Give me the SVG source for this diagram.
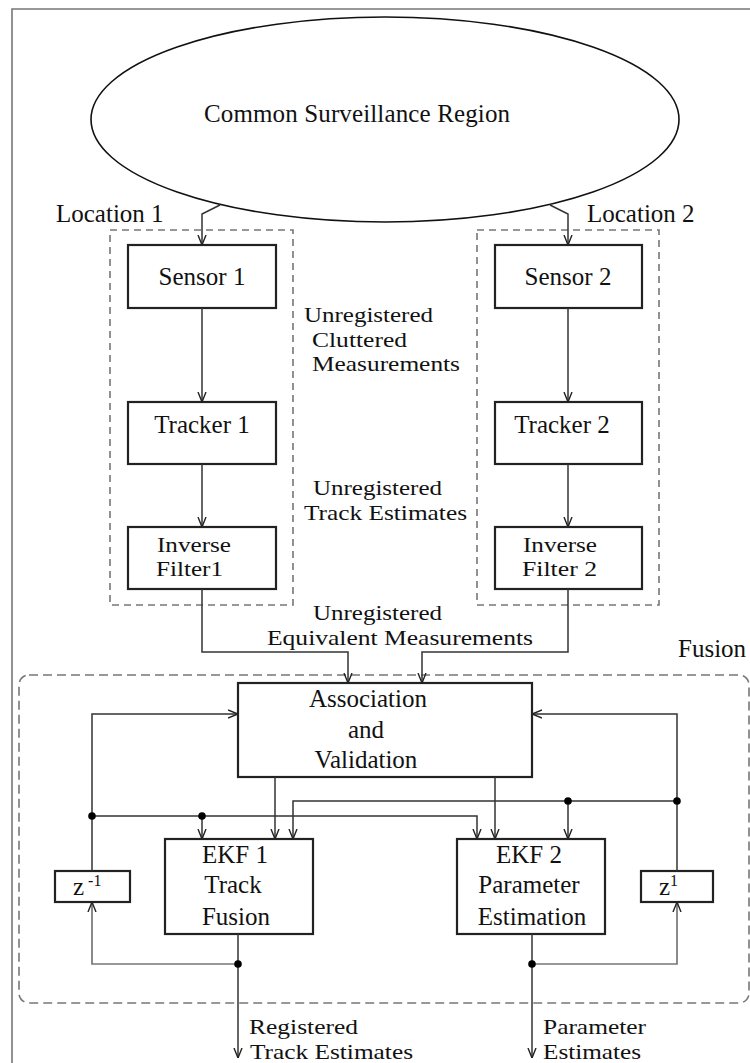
<svg xmlns="http://www.w3.org/2000/svg" width="750" height="1063" viewBox="0 0 750 1063">
<style>
text{font-family:"Liberation Serif","Times New Roman",serif;font-size:25px;fill:#111}
.sm{font-size:22px}
.box{fill:#fff;stroke:#222;stroke-width:2.2}
.dash{fill:none;stroke:#777;stroke-width:1.6;stroke-dasharray:7 5}
.ln{fill:none;stroke:#333;stroke-width:1.5}
.fb{fill:none;stroke:#777;stroke-width:1.7}
.dot{fill:#000}
.sup{font-size:16px}
</style>
<defs>
<marker id="arr" viewBox="0 0 10 10" refX="10" refY="5" markerWidth="10" markerHeight="10" markerUnits="userSpaceOnUse" orient="auto">
<path d="M0,1 L10,5 L0,9" fill="none" stroke="#222" stroke-width="1.4"/>
</marker>
</defs>
<rect width="750" height="1063" fill="#fff"/>
<path d="M12,1063 V9 H750" fill="none" stroke="#777" stroke-width="1.6"/>

<g id="groups">
<rect id="location1" class="dash" x="110" y="230" width="183" height="375"/>
<rect id="location2" class="dash" x="477" y="230" width="182" height="375"/>
<rect id="fusion" class="dash" x="19" y="675" width="730" height="328" rx="10" style="stroke-dasharray:9 5"/>
<text x="56" y="222">Location 1</text>
<text x="587" y="222">Location 2</text>
<text x="678" y="657">Fusion</text>
</g>

<g id="region">
<ellipse cx="385" cy="119.5" rx="294" ry="102.5" fill="#fff" stroke="#111" stroke-width="1.6"/>
<text x="204" y="122" font-size="26" textLength="306">Common Surveillance Region</text>
</g>

<g id="sensor1"><rect class="box" x="128" y="245" width="148" height="63"/><text x="202" y="285" text-anchor="middle">Sensor 1</text></g>
<g id="sensor2"><rect class="box" x="495" y="245" width="147" height="63"/><text x="568" y="285" text-anchor="middle">Sensor 2</text></g>
<g id="tracker1"><rect class="box" x="128" y="402" width="148" height="62"/><text x="202" y="433" text-anchor="middle">Tracker 1</text></g>
<g id="tracker2"><rect class="box" x="495" y="402" width="147" height="62"/><text x="562" y="433" text-anchor="middle">Tracker 2</text></g>
<g id="inverse1"><rect class="box" x="128" y="527" width="148" height="62"/><text class="sm" x="157" y="551.5" textLength="74" lengthAdjust="spacingAndGlyphs">Inverse</text><text class="sm" x="156" y="576" textLength="67" lengthAdjust="spacingAndGlyphs">Filter1</text></g>
<g id="inverse2"><rect class="box" x="495" y="527" width="147" height="62"/><text class="sm" x="523" y="551.5" textLength="74" lengthAdjust="spacingAndGlyphs">Inverse</text><text class="sm" x="522" y="576" textLength="75" lengthAdjust="spacingAndGlyphs">Filter 2</text></g>
<g id="association"><rect class="box" x="238" y="683" width="294" height="94"/><text x="368" y="707" text-anchor="middle">Association</text><text x="366" y="738" text-anchor="middle">and</text><text x="366" y="768" text-anchor="middle">Validation</text></g>
<g id="ekf1"><rect class="box" x="165" y="839" width="148" height="95"/><text x="235" y="863" text-anchor="middle">EKF 1</text><text x="233" y="893" text-anchor="middle">Track</text><text x="236" y="925" text-anchor="middle">Fusion</text></g>
<g id="ekf2"><rect class="box" x="457" y="839" width="148" height="95"/><text x="529" y="863" text-anchor="middle">EKF 2</text><text x="529" y="893" text-anchor="middle">Parameter</text><text x="532" y="925" text-anchor="middle">Estimation</text></g>
<g id="delay1"><rect class="box" x="55" y="871" width="75" height="31"/><text x="73" y="895">z<tspan class="sup" dy="-9"> -1</tspan></text></g>
<g id="delay2"><rect class="box" x="641" y="871" width="72" height="31"/><text x="659" y="895">z<tspan class="sup" dy="-9">1</tspan></text></g>

<g id="labels">
<text class="sm" x="304" y="322" textLength="129" lengthAdjust="spacingAndGlyphs">Unregistered</text>
<text class="sm" x="312" y="346.5" textLength="95" lengthAdjust="spacingAndGlyphs">Cluttered</text>
<text class="sm" x="312" y="371" textLength="148" lengthAdjust="spacingAndGlyphs">Measurements</text>
<text class="sm" x="313" y="495" textLength="129" lengthAdjust="spacingAndGlyphs">Unregistered</text>
<text class="sm" x="304" y="519.5" textLength="163" lengthAdjust="spacingAndGlyphs">Track Estimates</text>
<text class="sm" x="313" y="620" textLength="129" lengthAdjust="spacingAndGlyphs">Unregistered</text>
<text class="sm" x="267" y="644.5" textLength="266" lengthAdjust="spacingAndGlyphs">Equivalent Measurements</text>
<text class="sm" x="249" y="1034" textLength="109" lengthAdjust="spacingAndGlyphs">Registered</text>
<text class="sm" x="250" y="1058.5" textLength="163" lengthAdjust="spacingAndGlyphs">Track Estimates</text>
<text class="sm" x="543" y="1034" textLength="103" lengthAdjust="spacingAndGlyphs">Parameter</text>
<text class="sm" x="543" y="1058.5" textLength="98" lengthAdjust="spacingAndGlyphs">Estimates</text>
</g>

<g id="connectors">
<path class="ln" d="M220,205 L202,214 V245" marker-end="url(#arr)"/>
<path class="ln" d="M550,205 L568,214 V245" marker-end="url(#arr)"/>
<path class="ln" d="M202,308 V402" marker-end="url(#arr)"/>
<path class="ln" d="M568,308 V402" marker-end="url(#arr)"/>
<path class="ln" d="M202,464 V527" marker-end="url(#arr)"/>
<path class="ln" d="M568,464 V527" marker-end="url(#arr)"/>
<path class="ln" d="M202,589 V652 H348 V683" marker-end="url(#arr)"/>
<path class="ln" d="M568,589 V652 H422 V683" marker-end="url(#arr)"/>
<path class="ln" d="M92,871 V714 H238" marker-end="url(#arr)"/>
<path class="ln" d="M677,871 V714 H532" marker-end="url(#arr)"/>
<path class="ln" d="M92,816 H477 V839" marker-end="url(#arr)"/>
<path class="ln" d="M202,816 V839" marker-end="url(#arr)"/>
<path class="ln" d="M677,801 H293 V839" marker-end="url(#arr)"/>
<path class="ln" d="M568,801 V839" marker-end="url(#arr)"/>
<path class="ln" d="M275,777 V839" marker-end="url(#arr)"/>
<path class="ln" d="M495,777 V839" marker-end="url(#arr)"/>
<path class="ln" d="M238,934 V1058" marker-end="url(#arr)"/>
<path class="ln" d="M532,934 V1058" marker-end="url(#arr)"/>
<path class="fb" d="M238,964 H92 V902" marker-end="url(#arr)"/>
<path class="fb" d="M532,964 H677 V902" marker-end="url(#arr)"/>
<circle class="dot" cx="92" cy="816" r="3.8"/>
<circle class="dot" cx="202" cy="816" r="3.8"/>
<circle class="dot" cx="568" cy="801" r="3.8"/>
<circle class="dot" cx="677" cy="801" r="3.8"/>
<circle class="dot" cx="238" cy="964" r="3.8"/>
<circle class="dot" cx="532" cy="964" r="3.8"/>
</g>
</svg>
